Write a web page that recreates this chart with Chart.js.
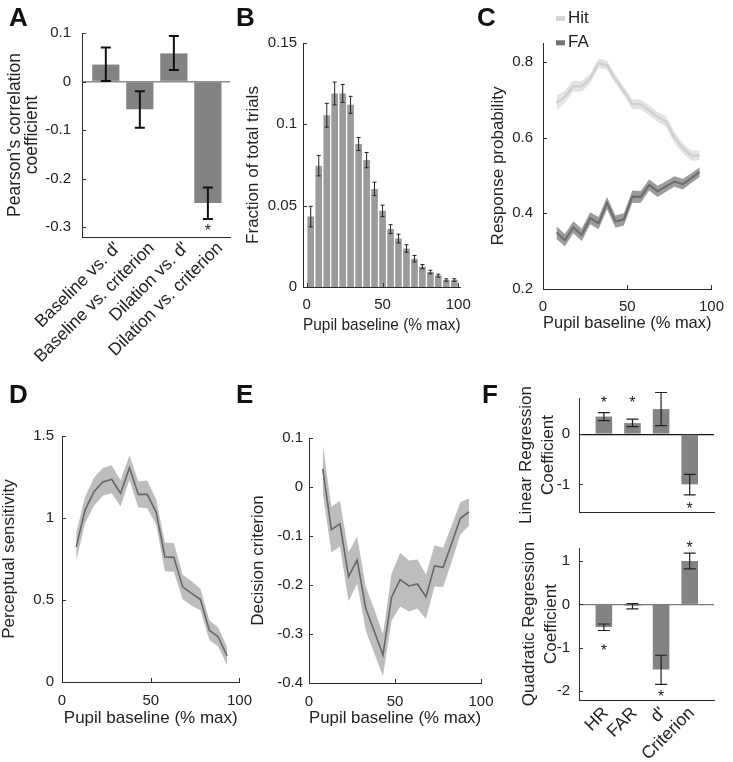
<!DOCTYPE html>
<html>
<head>
<meta charset="utf-8">
<script src="https://cdn.jsdelivr.net/npm/chart.js@4.4.1/dist/chart.umd.min.js"></script>
<style>
  body { margin: 0; background: #fff; }
  #fig { position: relative; width: 733px; height: 762px; overflow: hidden; font-family: "Liberation Sans", Arial, sans-serif; }
  canvas { position: absolute; }
  .lbl { position: absolute; font-weight: bold; font-size: 26px; line-height: 26px; color: #111; }
</style>
</head>
<body>
<div id="fig">
  <canvas id="cA"></canvas>
  <canvas id="cB"></canvas>
  <canvas id="cC"></canvas>
  <canvas id="cD"></canvas>
  <canvas id="cE"></canvas>
  <canvas id="cF1"></canvas>
  <canvas id="cF2"></canvas>
  <div class="lbl" style="left:9px;top:4px">A</div>
  <div class="lbl" style="left:236px;top:4px">B</div>
  <div class="lbl" style="left:477px;top:4px">C</div>
  <div class="lbl" style="left:9px;top:381px">D</div>
  <div class="lbl" style="left:236px;top:381px">E</div>
  <div class="lbl" style="left:482px;top:381px">F</div>
</div>
<script>
// --- A: correlation coefficients
const aLabels = ["Baseline vs. d'", "Baseline vs. criterion", "Dilation vs. d'", "Dilation vs. criterion"];
const aPos = [1, 2, 3, 4];
const aR = [0.035, -0.057, 0.058, -0.25];
const aLo = [0.001, -0.095, 0.024, -0.283];
const aHi = [0.07, -0.02, 0.094, -0.218];
const aStar = [null, null, null, -0.3];
const aTicks = [-0.3, -0.2, -0.1, 0, 0.1];

// --- B: histogram of pupil baseline
const bBins = [2.6, 7.9, 13.2, 18.4, 23.7, 28.9, 34.2, 39.5, 44.7, 50, 55.3, 60.5, 65.8, 71.1, 76.3, 81.6, 86.8, 92.1, 97.4];
const bFrac = [0.0433, 0.0746, 0.1056, 0.119, 0.119, 0.112, 0.0879, 0.078, 0.0603, 0.0468, 0.0356, 0.0298, 0.0237, 0.0174, 0.0125, 0.0092, 0.007, 0.0043, 0.0043];
const bSem = [0.0063, 0.0063, 0.0073, 0.007, 0.0055, 0.0052, 0.004, 0.0047, 0.0041, 0.0035, 0.0027, 0.0027, 0.0023, 0.002, 0.0013, 0.0011, 0.0009, 0.0007, 0.0008];
const bTicks = [0, 0.05, 0.1, 0.15];
const pupilTicks = [0, 50, 100];

// --- C, D, E: curves vs pupil baseline
const pupilX = [8, 13, 18, 23, 28, 33, 38, 43, 48, 53, 58, 63, 68, 73, 78, 83, 88, 93];
const hitP = [0.692, 0.708, 0.736, 0.735, 0.756, 0.797, 0.791, 0.754, 0.723, 0.688, 0.688, 0.672, 0.655, 0.643, 0.6, 0.572, 0.552, 0.553];
const hitSem = [0.02, 0.016, 0.014, 0.014, 0.013, 0.012, 0.012, 0.012, 0.012, 0.013, 0.013, 0.013, 0.013, 0.014, 0.014, 0.014, 0.013, 0.013];
const faP = [0.349, 0.329, 0.363, 0.343, 0.387, 0.374, 0.427, 0.378, 0.384, 0.444, 0.443, 0.475, 0.458, 0.471, 0.484, 0.477, 0.493, 0.509];
const faSem = [0.017, 0.016, 0.016, 0.016, 0.016, 0.016, 0.016, 0.016, 0.016, 0.016, 0.016, 0.015, 0.015, 0.014, 0.014, 0.014, 0.013, 0.013];
const cTicks = [0.2, 0.4, 0.6, 0.8];

const dPrime = [0.824, 1.048, 1.16, 1.22, 1.236, 1.15, 1.306, 1.144, 1.144, 1.038, 0.763, 0.76, 0.58, 0.54, 0.503, 0.316, 0.275, 0.159];
const dSem = [0.085, 0.08, 0.085, 0.085, 0.085, 0.08, 0.075, 0.08, 0.085, 0.077, 0.088, 0.088, 0.075, 0.075, 0.065, 0.06, 0.058, 0.055];
const dTicks = [0, 0.5, 1, 1.5];

const crit = [0.037, -0.087, -0.075, -0.183, -0.149, -0.248, -0.295, -0.343, -0.225, -0.189, -0.202, -0.198, -0.224, -0.161, -0.164, -0.115, -0.064, -0.051];
const critSem = [0.05, 0.046, 0.047, 0.05, 0.048, 0.045, 0.045, 0.043, 0.048, 0.055, 0.052, 0.05, 0.045, 0.042, 0.04, 0.037, 0.033, 0.028];
const eTicks = [-0.4, -0.3, -0.2, -0.1, 0, 0.1];

// --- F: regression coefficients
const fLabels = ['HR', 'FAR', "d'", 'Criterion'];
const fPos = [1, 2, 3, 4];
const linCoef = [0.35, 0.22, 0.5, -1.0];
const linLo = [0.27, 0.15, 0.17, -1.21];
const linHi = [0.43, 0.3, 0.83, -0.8];
const linStar = [0.7, 0.7, null, -1.42];
const linTicks = [-1, 0];
const quadCoef = [-0.52, -0.03, -1.5, 1.0];
const quadLo = [-0.6, -0.1, -1.84, 0.82];
const quadHi = [-0.45, 0.02, -1.17, 1.18];
const quadStar = [-0.98, null, -2.05, 1.39];
const quadTicks = [-2, -1, 0, 1];

const FONT = '"Liberation Sans", Arial, sans-serif';
const INK = '#222';
Chart.defaults.font.family = FONT;
Chart.defaults.color = INK;
Chart.defaults.animation = false;

const errorBars = {
  id: 'errorBars',
  afterDatasetsDraw(chart, args, o) {
    if (!o.lo) return;
    const { ctx, scales: { x, y } } = chart;
    ctx.save();
    ctx.strokeStyle = o.color;
    ctx.lineWidth = o.width;
    o.x.forEach((xv, i) => {
      const px = x.getPixelForValue(xv);
      const p1 = y.getPixelForValue(o.lo[i]);
      const p2 = y.getPixelForValue(o.hi[i]);
      const c = o.cap / 2;
      ctx.beginPath();
      ctx.moveTo(px, p1); ctx.lineTo(px, p2);
      ctx.moveTo(px - c, p1); ctx.lineTo(px + c, p1);
      ctx.moveTo(px - c, p2); ctx.lineTo(px + c, p2);
      ctx.stroke();
    });
    ctx.restore();
  }
};

const stars = {
  id: 'stars',
  afterDatasetsDraw(chart, args, o) {
    if (!o.y) return;
    const { ctx, scales: { x, y } } = chart;
    ctx.save();
    ctx.fillStyle = INK;
    ctx.font = '16px ' + FONT;
    ctx.textAlign = 'center';
    ctx.textBaseline = 'alphabetic';
    o.x.forEach((xv, i) => {
      if (o.y[i] == null) return;
      ctx.fillText('*', x.getPixelForValue(xv), y.getPixelForValue(o.y[i]) + 9);
    });
    ctx.restore();
  }
};

// short tick marks pointing into the plot, like the original
const inTicks = {
  id: 'inTicks',
  afterDraw(chart, args, o) {
    if (!o.x && !o.y) return;
    const { ctx, chartArea: a, scales } = chart;
    ctx.save();
    ctx.strokeStyle = '#333';
    ctx.lineWidth = 1;
    ctx.beginPath();
    if (o.y) scales.y.ticks.forEach(t => {
      const p = Math.round(scales.y.getPixelForValue(t.value)) + 0.5;
      ctx.moveTo(a.left, p); ctx.lineTo(a.left + 4, p);
    });
    if (o.x) scales.x.ticks.forEach(t => {
      const p = Math.round(scales.x.getPixelForValue(t.value)) + 0.5;
      ctx.moveTo(p, a.bottom); ctx.lineTo(p, a.bottom - 4);
    });
    ctx.stroke();
    ctx.restore();
  }
};

const miniLegend = {
  id: 'miniLegend',
  afterDraw(chart, args, o) {
    if (!o.at) return;
    const ctx = chart.ctx;
    ctx.save();
    ctx.font = '17px ' + FONT;
    ctx.textBaseline = 'middle';
    chart.data.datasets.filter(d => d.legendColor).forEach((d, i) => {
      const yy = o.at.y + i * o.gap;
      ctx.fillStyle = d.legendColor;
      ctx.fillRect(o.at.x, yy - 2.5, 9, 5);
      ctx.fillStyle = INK;
      ctx.fillText(d.label, o.at.x + 12, yy);
    });
    ctx.restore();
  }
};

Chart.register(errorBars, stars, inTicks, miniLegend);

function setup(id, box) {
  const c = document.getElementById(id);
  c.width = box.w; c.height = box.h;
  c.style.left = box.l + 'px';
  c.style.top = box.t + 'px';
  return c.getContext('2d');
}
const pad = (box, area) => ({ left: 0, bottom: 0, top: area.t - box.t, right: box.l + box.w - area.r });
const fixW = (box, area) => s => { s.width = area.l - box.l; };
const fixH = (box, area) => s => { s.height = box.t + box.h - area.b; };
const useTicks = vals => s => { s.ticks = vals.map(v => ({ value: v })); };
const zeroLine = col => c => (c.tick && c.tick.value === 0 ? col : 'rgba(0,0,0,0)');
const pts = (xs, ys) => xs.map((x, i) => ({ x, y: ys[i] }));
const band = (xs, m, s, sign) => xs.map((x, i) => ({ x, y: m[i] + sign * s[i] }));
const tickFont = { size: 15 };
const titleFont = { size: 17, lineHeight: 1 };
const border = { color: '#2a2a2a', width: 1 };
const noPlug = { legend: { display: false }, tooltip: { enabled: false } };

// ---------- A ----------
{
  const box = { l: 0, t: 0, w: 240, h: 380 }, area = { l: 82, t: 33, r: 230, b: 237 };
  new Chart(setup('cA', box), {
    type: 'bar',
    data: { datasets: [{ data: pts(aPos, aR), backgroundColor: '#838383', barPercentage: 0.8, categoryPercentage: 1 }] },
    options: {
      responsive: false,
      layout: { padding: pad(box, area) },
      plugins: { ...noPlug,
        errorBars: { x: aPos, lo: aLo, hi: aHi, color: '#111', width: 2, cap: 10 },
        stars: { x: aPos, y: aStar },
        inTicks: { y: true } },
      scales: {
        x: { type: 'linear', min: 0.3, max: 4.65, offset: false, afterBuildTicks: useTicks(aPos), afterFit: fixH(box, area),
             grid: { display: false, drawTicks: false }, border,
             ticks: { autoSkip: false, minRotation: 45, maxRotation: 45, labelOffset: 12, padding: 1, font: { size: 17.5 },
                      callback: v => aLabels[aPos.indexOf(v)] } },
        y: { min: -0.32, max: 0.1, afterBuildTicks: useTicks(aTicks), afterFit: fixW(box, area),
             grid: { color: zeroLine('#8c8c8c'), lineWidth: 1.5, drawTicks: false }, border,
             ticks: { padding: 11, font: tickFont, callback: v => String(v) },
             title: { display: true, text: ["Pearson's correlation", 'coefficient'], font: { size: 17.5, lineHeight: 1 }, padding: { top: 6.25, bottom: 0 } } }
      }
    }
  });
}

// ---------- B ----------
{
  const box = { l: 240, t: 0, w: 240, h: 335 }, area = { l: 303, t: 43, r: 466, b: 287 };
  new Chart(setup('cB', box), {
    type: 'bar',
    data: { datasets: [{ data: pts(bBins, bFrac), backgroundColor: '#9b9b9b', barPercentage: 0.85, categoryPercentage: 1 }] },
    options: {
      responsive: false,
      layout: { padding: pad(box, area) },
      plugins: { ...noPlug,
        errorBars: { x: bBins, lo: bFrac.map((v, i) => v - bSem[i]), hi: bFrac.map((v, i) => v + bSem[i]), color: '#222', width: 1, cap: 4 },
        inTicks: { x: true, y: true } },
      scales: {
        x: { type: 'linear', min: -2.5, max: 101.5, offset: false, afterBuildTicks: useTicks(pupilTicks), afterFit: fixH(box, area),
             grid: { display: false, drawTicks: false }, border,
             ticks: { padding: 9, font: tickFont, callback: v => String(v) },
             title: { display: true, text: 'Pupil baseline (% max)', font: titleFont, padding: { top: 0, bottom: 1.5 } } },
        y: { min: 0, max: 0.15, afterBuildTicks: useTicks(bTicks), afterFit: fixW(box, area),
             grid: { display: false, drawTicks: false }, border,
             ticks: { padding: 6, font: tickFont, callback: v => String(v) },
             title: { display: true, text: 'Fraction of total trials', font: titleFont, padding: { top: 4.5, bottom: 0 } } }
      }
    }
  });
}

// ---------- C ----------
{
  const box = { l: 480, t: 0, w: 253, h: 335 }, area = { l: 543, t: 43, r: 721, b: 289 };
  const clear = 'rgba(0,0,0,0)';
  new Chart(setup('cC', box), {
    type: 'line',
    data: { datasets: [
      { label: 'Hit', data: pts(pupilX, hitP), borderColor: '#cdcdcd', borderWidth: 2, legendColor: '#d4d4d4' },
      { label: 'FA', data: pts(pupilX, faP), borderColor: '#6c6c6c', borderWidth: 2, legendColor: '#727272' },
      { data: band(pupilX, hitP, hitSem, 1), fill: '+1', backgroundColor: '#e3e3e3', borderColor: clear },
      { data: band(pupilX, hitP, hitSem, -1), borderColor: clear },
      { data: band(pupilX, faP, faSem, 1), fill: '+1', backgroundColor: '#9c9c9c', borderColor: clear },
      { data: band(pupilX, faP, faSem, -1), borderColor: clear }
    ] },
    options: {
      responsive: false,
      layout: { padding: pad(box, area) },
      elements: { point: { radius: 0 }, line: { tension: 0 } },
      plugins: { ...noPlug, inTicks: { x: true, y: true }, miniLegend: { at: { x: 76, y: 18.5 }, gap: 24.3 } },
      scales: {
        x: { type: 'linear', min: 0, max: 100, afterBuildTicks: useTicks(pupilTicks), afterFit: fixH(box, area),
             grid: { display: false, drawTicks: false }, border,
             ticks: { padding: 9, font: tickFont, callback: v => String(v) },
             title: { display: true, text: 'Pupil baseline (% max)', font: titleFont, padding: { top: 0, bottom: 3.5 } } },
        y: { min: 0.2, max: 0.85, afterBuildTicks: useTicks(cTicks), afterFit: fixW(box, area),
             grid: { display: false, drawTicks: false }, border,
             ticks: { padding: 10, font: tickFont, callback: v => String(v) },
             title: { display: true, text: 'Response probability', font: titleFont, padding: { top: 9.5, bottom: 0 } } }
      }
    }
  });
}

// ---------- D and E ----------
function shadedPanel(id, box, area, m, s, yMin, yMax, yTicks, yTitle, titleTop, tickPad) {
  const clear = 'rgba(0,0,0,0)';
  new Chart(setup(id, box), {
    type: 'line',
    data: { datasets: [
      { data: pts(pupilX, m), borderColor: '#676767', borderWidth: 1.6 },
      { data: band(pupilX, m, s, 1), fill: '+1', backgroundColor: '#bdbdbd', borderColor: clear },
      { data: band(pupilX, m, s, -1), borderColor: clear }
    ] },
    options: {
      responsive: false,
      layout: { padding: pad(box, area) },
      elements: { point: { radius: 0 }, line: { tension: 0 } },
      plugins: { ...noPlug, inTicks: { x: true, y: true } },
      scales: {
        x: { type: 'linear', min: 0, max: 100, afterBuildTicks: useTicks(pupilTicks), afterFit: fixH(box, area),
             grid: { display: false, drawTicks: false }, border,
             ticks: { padding: 10, font: tickFont, callback: v => String(v) },
             title: { display: true, text: 'Pupil baseline (% max)', font: titleFont, padding: { top: 0, bottom: 35.5 } } },
        y: { min: yMin, max: yMax, afterBuildTicks: useTicks(yTicks), afterFit: fixW(box, area),
             grid: { display: false, drawTicks: false }, border,
             ticks: { padding: tickPad, font: tickFont, callback: v => String(v) },
             title: { display: true, text: yTitle, font: titleFont, padding: { top: titleTop, bottom: 0 } } }
      }
    }
  });
}
shadedPanel('cD', { l: 0, t: 380, w: 262, h: 382 }, { l: 62, t: 436, r: 241, b: 682 },
  dPrime, dSem, 0, 1.5, dTicks, 'Perceptual sensitivity', 0.5, 8);
shadedPanel('cE', { l: 245, t: 380, w: 262, h: 382 }, { l: 309, t: 438, r: 481, b: 683 },
  crit, critSem, -0.4, 0.1, eTicks, 'Decision criterion', 4.5, 6);

// ---------- F ----------
function coefPanel(id, box, area, vals, lo, hi, st, yMin, yMax, yTicks, title, titleTop, zeroCol, showX) {
  new Chart(setup(id, box), {
    type: 'bar',
    data: { datasets: [{ data: pts(fPos, vals), backgroundColor: '#838383', barPercentage: 0.58, categoryPercentage: 1 }] },
    options: {
      responsive: false,
      layout: { padding: pad(box, area) },
      plugins: { ...noPlug,
        errorBars: { x: fPos, lo, hi, color: '#222', width: 1.2, cap: 12 },
        stars: { x: fPos, y: st },
        inTicks: { y: true } },
      scales: {
        x: { type: 'linear', min: 0.13, max: 4.85, offset: false, afterBuildTicks: useTicks(fPos), afterFit: fixH(box, area),
             grid: { display: false, drawTicks: false }, border,
             ticks: { display: showX, autoSkip: false, minRotation: 45, maxRotation: 45, labelOffset: 2, padding: 3, font: { size: 17.5 },
                      callback: v => fLabels[fPos.indexOf(v)] } },
        y: { min: yMin, max: yMax, afterBuildTicks: useTicks(yTicks), afterFit: fixW(box, area),
             grid: { color: zeroLine(zeroCol), lineWidth: 1.2, drawTicks: false }, border,
             ticks: { padding: 9, font: tickFont, callback: v => String(v) },
             title: { display: true, text: title, font: { size: 17, lineHeight: 1.3 }, padding: { top: titleTop, bottom: 0 } } }
      }
    }
  });
}
coefPanel('cF1', { l: 490, t: 380, w: 243, h: 150 }, { l: 579, t: 392, r: 714, b: 523 },
  linCoef, linLo, linHi, linStar, -1.55, 0.72, linTicks, ['Linear Regression', 'Coefficient'], 25.3, '#111', false);
coefPanel('cF2', { l: 490, t: 530, w: 243, h: 232 }, { l: 579, t: 548, r: 714, b: 700 },
  quadCoef, quadLo, quadHi, quadStar, -2.2, 1.3, quadTicks, ['Quadratic Regression', 'Coefficient'], 28, '#7a7a7a', true);
</script>
</body>
</html>
